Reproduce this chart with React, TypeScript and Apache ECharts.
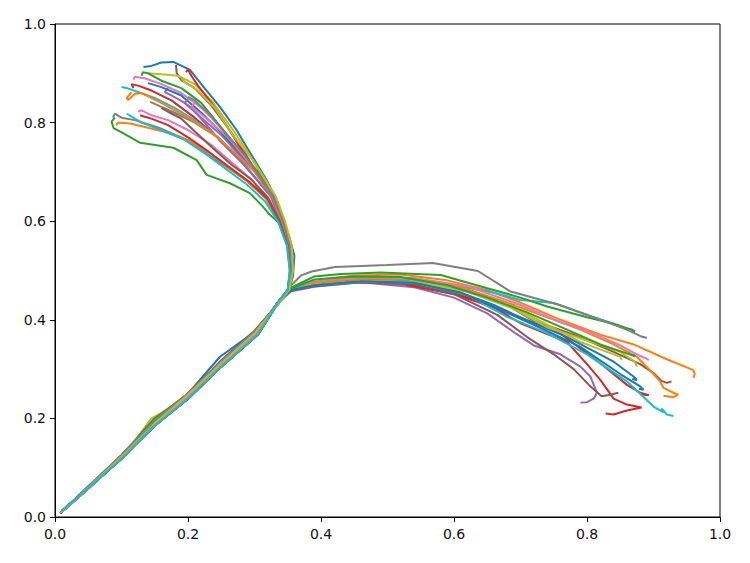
import React, { useEffect, useRef } from "react";
import * as echarts from "echarts";

// ---- tick labels ----
const xTicks = [0, 0.2, 0.4, 0.6, 0.8, 1.0];
const yTicks = [0, 0.2, 0.4, 0.6, 0.8, 1.0];

// ---- colors (matplotlib tab10) ----
const C = {
  blue: "#1f77b4", orange: "#ff7f0e", green: "#2ca02c", red: "#d62728", purple: "#9467bd",
  brown: "#8c564b", pink: "#e377c2", gray: "#7f7f7f", olive: "#bcbd22", cyan: "#17becf",
};

// ---- trajectories: right branch ----
const rBlueA = [[0.01,0.01],[0.05,0.06],[0.1,0.125],[0.15,0.195],[0.2,0.25],[0.248,0.325],[0.3,0.375],[0.34,0.44],[0.355,0.46],[0.38,0.472],[0.45,0.48],[0.53,0.478],[0.6,0.46],[0.66,0.43],[0.7,0.405],[0.77,0.365],[0.84,0.315],[0.87,0.285],[0.875,0.278],[0.868,0.28]];
const rBlueB = [[0.008,0.008],[0.05,0.058],[0.1,0.12],[0.15,0.185],[0.2,0.245],[0.25,0.31],[0.3,0.368],[0.335,0.435],[0.355,0.46],[0.39,0.47],[0.46,0.478],[0.54,0.475],[0.61,0.455],[0.67,0.42],[0.72,0.39],[0.79,0.345],[0.85,0.29],[0.88,0.265],[0.885,0.258],[0.878,0.26]];
const rOrangeA = [[0.01,0.012],[0.055,0.065],[0.1,0.118],[0.145,0.18],[0.2,0.24],[0.25,0.305],[0.305,0.37],[0.338,0.44],[0.355,0.465],[0.39,0.48],[0.45,0.49],[0.52,0.492],[0.59,0.48],[0.65,0.46],[0.7,0.435],[0.76,0.4],[0.82,0.37],[0.87,0.35],[0.92,0.32],[0.96,0.298],[0.962,0.29],[0.96,0.282]];
const rOrangeB = [[0.01,0.01],[0.05,0.06],[0.1,0.122],[0.15,0.19],[0.2,0.248],[0.25,0.312],[0.3,0.372],[0.34,0.44],[0.355,0.463],[0.39,0.476],[0.46,0.484],[0.54,0.484],[0.61,0.466],[0.67,0.44],[0.73,0.41],[0.79,0.38],[0.84,0.35],[0.875,0.325],[0.9,0.29],[0.91,0.275],[0.915,0.262],[0.93,0.252],[0.937,0.248],[0.93,0.243],[0.915,0.246]];
const rGreenA = [[0.01,0.01],[0.05,0.062],[0.1,0.125],[0.148,0.198],[0.2,0.25],[0.25,0.315],[0.3,0.375],[0.34,0.44],[0.355,0.465],[0.39,0.488],[0.43,0.493],[0.49,0.496],[0.58,0.491],[0.65,0.464],[0.7,0.445],[0.74,0.427],[0.8,0.405],[0.84,0.392],[0.86,0.383],[0.868,0.38],[0.872,0.376],[0.866,0.378]];
const rGreenB = [[0.008,0.008],[0.05,0.058],[0.1,0.12],[0.15,0.185],[0.2,0.245],[0.25,0.31],[0.3,0.368],[0.335,0.435],[0.355,0.463],[0.39,0.482],[0.45,0.488],[0.52,0.487],[0.59,0.47],[0.65,0.445],[0.71,0.415],[0.77,0.38],[0.82,0.35],[0.86,0.332],[0.872,0.326],[0.87,0.33]];
const rRedA = [[0.01,0.012],[0.055,0.065],[0.1,0.118],[0.145,0.18],[0.2,0.24],[0.25,0.305],[0.305,0.37],[0.338,0.44],[0.355,0.46],[0.38,0.47],[0.45,0.478],[0.52,0.475],[0.6,0.455],[0.65,0.43],[0.7,0.405],[0.76,0.372],[0.82,0.312],[0.86,0.268],[0.88,0.252],[0.893,0.247],[0.88,0.249]];
const rRedB = [[0.01,0.01],[0.05,0.06],[0.1,0.125],[0.15,0.195],[0.2,0.25],[0.25,0.315],[0.3,0.375],[0.34,0.44],[0.355,0.46],[0.38,0.468],[0.44,0.476],[0.52,0.473],[0.6,0.452],[0.66,0.425],[0.7,0.393],[0.77,0.355],[0.8,0.31],[0.82,0.278],[0.84,0.24],[0.86,0.228],[0.882,0.222],[0.86,0.216],[0.84,0.208],[0.828,0.21]];
const rPurple = [[0.008,0.008],[0.05,0.058],[0.1,0.12],[0.15,0.185],[0.2,0.245],[0.25,0.31],[0.3,0.368],[0.335,0.435],[0.355,0.458],[0.39,0.467],[0.46,0.476],[0.54,0.466],[0.6,0.445],[0.65,0.413],[0.69,0.375],[0.72,0.348],[0.76,0.33],[0.79,0.305],[0.805,0.285],[0.815,0.252],[0.81,0.24],[0.8,0.233],[0.79,0.232]];
const rBrownA = [[0.01,0.01],[0.05,0.06],[0.1,0.122],[0.15,0.19],[0.2,0.248],[0.25,0.318],[0.3,0.378],[0.34,0.44],[0.355,0.462],[0.39,0.474],[0.46,0.482],[0.54,0.48],[0.62,0.462],[0.68,0.43],[0.72,0.398],[0.78,0.37],[0.84,0.335],[0.88,0.31],[0.9,0.292],[0.912,0.276],[0.92,0.272],[0.927,0.275]];
const rBrownB = [[0.01,0.012],[0.055,0.065],[0.1,0.118],[0.145,0.18],[0.2,0.24],[0.25,0.305],[0.305,0.37],[0.338,0.44],[0.355,0.459],[0.39,0.468],[0.46,0.476],[0.54,0.472],[0.6,0.452],[0.665,0.41],[0.71,0.365],[0.75,0.33],[0.78,0.3],[0.805,0.265],[0.822,0.245],[0.835,0.248],[0.847,0.252]];
const rPink = [[0.01,0.01],[0.05,0.06],[0.1,0.125],[0.15,0.195],[0.2,0.25],[0.25,0.315],[0.3,0.375],[0.34,0.44],[0.355,0.463],[0.39,0.48],[0.46,0.487],[0.54,0.485],[0.62,0.468],[0.7,0.43],[0.76,0.395],[0.8,0.378],[0.85,0.348],[0.875,0.33],[0.888,0.322],[0.893,0.318]];
const rGray = [[0.008,0.008],[0.05,0.058],[0.1,0.12],[0.15,0.185],[0.2,0.245],[0.25,0.31],[0.3,0.368],[0.335,0.435],[0.353,0.467],[0.37,0.49],[0.386,0.498],[0.421,0.507],[0.5,0.511],[0.568,0.515],[0.636,0.499],[0.684,0.458],[0.759,0.43],[0.82,0.4],[0.86,0.38],[0.882,0.366],[0.89,0.363]];
const rOliveA = [[0.01,0.012],[0.055,0.065],[0.1,0.118],[0.145,0.2],[0.2,0.24],[0.25,0.305],[0.305,0.37],[0.338,0.44],[0.355,0.462],[0.39,0.475],[0.46,0.482],[0.54,0.48],[0.62,0.46],[0.689,0.426],[0.74,0.39],[0.79,0.355],[0.83,0.335],[0.85,0.325],[0.852,0.318]];
const rOliveB = [[0.01,0.01],[0.05,0.06],[0.1,0.122],[0.15,0.19],[0.2,0.248],[0.25,0.312],[0.3,0.372],[0.34,0.44],[0.355,0.461],[0.39,0.472],[0.46,0.479],[0.54,0.477],[0.62,0.457],[0.69,0.422],[0.74,0.385],[0.8,0.358],[0.85,0.335],[0.872,0.315],[0.875,0.305]];
const rCyanA = [[0.01,0.01],[0.05,0.062],[0.1,0.125],[0.15,0.195],[0.2,0.25],[0.25,0.315],[0.3,0.375],[0.34,0.44],[0.355,0.463],[0.39,0.478],[0.46,0.484],[0.54,0.482],[0.6,0.47],[0.66,0.455],[0.7,0.44],[0.75,0.434],[0.8,0.41],[0.84,0.392],[0.86,0.38]];
const rCyanB = [[0.008,0.008],[0.05,0.058],[0.1,0.12],[0.15,0.185],[0.2,0.245],[0.25,0.31],[0.3,0.368],[0.335,0.435],[0.355,0.461],[0.39,0.47],[0.46,0.477],[0.54,0.475],[0.62,0.45],[0.68,0.406],[0.74,0.373],[0.8,0.33],[0.86,0.275],[0.88,0.25],[0.9,0.224],[0.915,0.212],[0.912,0.22],[0.92,0.208],[0.93,0.205]];

// ---- trajectories: upper-left branch ----
const lBlueA = [[0.01,0.01],[0.05,0.06],[0.1,0.125],[0.15,0.195],[0.2,0.25],[0.25,0.315],[0.3,0.375],[0.34,0.44],[0.352,0.46],[0.358,0.49],[0.36,0.53],[0.352,0.57],[0.346,0.589],[0.333,0.643],[0.318,0.684],[0.288,0.751],[0.273,0.785],[0.248,0.832],[0.223,0.873],[0.203,0.907],[0.178,0.923],[0.16,0.922],[0.145,0.915],[0.133,0.913]];
const lBlueB = [[0.008,0.008],[0.05,0.058],[0.1,0.12],[0.15,0.185],[0.2,0.245],[0.25,0.31],[0.3,0.368],[0.335,0.435],[0.35,0.46],[0.357,0.5],[0.354,0.55],[0.343,0.6],[0.328,0.65],[0.305,0.695],[0.28,0.735],[0.25,0.78],[0.22,0.82],[0.19,0.855],[0.16,0.872],[0.14,0.88]];
const lOliveA = [[0.01,0.012],[0.055,0.065],[0.1,0.118],[0.145,0.18],[0.2,0.24],[0.25,0.305],[0.305,0.37],[0.338,0.44],[0.35,0.46],[0.357,0.5],[0.355,0.55],[0.344,0.6],[0.33,0.645],[0.312,0.69],[0.29,0.74],[0.265,0.79],[0.235,0.845],[0.21,0.878],[0.185,0.895],[0.16,0.898],[0.14,0.9]];
const lOliveB = [[0.01,0.01],[0.05,0.06],[0.1,0.122],[0.15,0.19],[0.2,0.248],[0.25,0.312],[0.3,0.372],[0.34,0.44],[0.352,0.46],[0.358,0.5],[0.356,0.55],[0.346,0.6],[0.332,0.65],[0.3,0.72],[0.27,0.77],[0.24,0.83],[0.215,0.865],[0.195,0.882],[0.19,0.89]];
const lGreenA = [[0.01,0.01],[0.05,0.062],[0.1,0.125],[0.15,0.195],[0.2,0.25],[0.25,0.315],[0.3,0.375],[0.34,0.44],[0.35,0.46],[0.355,0.5],[0.352,0.55],[0.343,0.59],[0.323,0.613],[0.313,0.629],[0.293,0.657],[0.263,0.677],[0.228,0.694],[0.213,0.724],[0.178,0.749],[0.128,0.759],[0.103,0.778],[0.088,0.789],[0.085,0.802],[0.09,0.81]];
const lGreenB = [[0.008,0.008],[0.05,0.058],[0.1,0.12],[0.15,0.185],[0.2,0.245],[0.25,0.31],[0.3,0.368],[0.335,0.435],[0.35,0.46],[0.357,0.5],[0.354,0.55],[0.342,0.6],[0.328,0.65],[0.305,0.7],[0.28,0.74],[0.25,0.79],[0.22,0.84],[0.19,0.87],[0.16,0.885],[0.14,0.9],[0.132,0.902],[0.13,0.895]];
const lOrangeA = [[0.01,0.012],[0.055,0.065],[0.1,0.118],[0.145,0.18],[0.2,0.24],[0.25,0.305],[0.305,0.37],[0.338,0.44],[0.35,0.46],[0.356,0.5],[0.35,0.55],[0.336,0.6],[0.318,0.645],[0.29,0.68],[0.26,0.71],[0.233,0.738],[0.2,0.765],[0.163,0.782],[0.113,0.798],[0.095,0.8],[0.092,0.795]];
const lOrangeB = [[0.01,0.01],[0.05,0.06],[0.1,0.122],[0.15,0.19],[0.2,0.248],[0.25,0.312],[0.3,0.372],[0.34,0.44],[0.35,0.46],[0.357,0.5],[0.353,0.55],[0.341,0.6],[0.327,0.65],[0.3,0.7],[0.27,0.74],[0.24,0.775],[0.2,0.81],[0.16,0.84],[0.13,0.86],[0.12,0.858],[0.11,0.846],[0.108,0.85],[0.115,0.862]];
const lRedA = [[0.01,0.01],[0.05,0.06],[0.1,0.125],[0.15,0.195],[0.2,0.25],[0.25,0.315],[0.3,0.375],[0.34,0.44],[0.35,0.46],[0.355,0.5],[0.352,0.55],[0.34,0.6],[0.325,0.65],[0.3,0.69],[0.275,0.73],[0.245,0.77],[0.21,0.81],[0.175,0.845],[0.145,0.865],[0.125,0.875],[0.115,0.878],[0.118,0.87]];
const lRedB = [[0.008,0.008],[0.05,0.058],[0.1,0.12],[0.15,0.185],[0.2,0.245],[0.25,0.31],[0.3,0.368],[0.335,0.435],[0.35,0.46],[0.354,0.5],[0.35,0.55],[0.337,0.6],[0.32,0.645],[0.292,0.68],[0.262,0.71],[0.232,0.74],[0.2,0.77],[0.17,0.795],[0.145,0.808],[0.135,0.812],[0.128,0.815]];
const lRedC = [[0.01,0.012],[0.055,0.065],[0.1,0.118],[0.145,0.18],[0.2,0.24],[0.25,0.305],[0.305,0.37],[0.338,0.44],[0.35,0.46],[0.357,0.5],[0.354,0.55],[0.343,0.6],[0.328,0.65],[0.305,0.695],[0.285,0.735],[0.26,0.79],[0.235,0.84],[0.215,0.875],[0.205,0.895],[0.2,0.908],[0.197,0.902]];
const lPurpleA = [[0.01,0.01],[0.05,0.06],[0.1,0.122],[0.15,0.19],[0.2,0.248],[0.25,0.312],[0.3,0.372],[0.34,0.44],[0.35,0.46],[0.357,0.5],[0.354,0.55],[0.343,0.6],[0.328,0.65],[0.305,0.695],[0.28,0.73],[0.25,0.775],[0.22,0.81],[0.195,0.84],[0.175,0.855],[0.165,0.862],[0.17,0.87]];
const lPurpleB = [[0.01,0.01],[0.05,0.062],[0.1,0.125],[0.15,0.195],[0.2,0.25],[0.25,0.315],[0.3,0.375],[0.34,0.44],[0.35,0.46],[0.355,0.5],[0.352,0.55],[0.34,0.6],[0.325,0.65],[0.3,0.69],[0.28,0.72],[0.25,0.76],[0.225,0.8],[0.205,0.83],[0.195,0.84],[0.2,0.848]];
const lBrownA = [[0.008,0.008],[0.05,0.058],[0.1,0.12],[0.15,0.185],[0.2,0.245],[0.25,0.31],[0.3,0.368],[0.335,0.435],[0.35,0.46],[0.357,0.5],[0.354,0.55],[0.343,0.6],[0.328,0.65],[0.305,0.695],[0.285,0.74],[0.26,0.79],[0.235,0.835],[0.21,0.87],[0.19,0.886],[0.183,0.9],[0.182,0.917]];
const lBrownB = [[0.01,0.012],[0.055,0.065],[0.1,0.118],[0.145,0.18],[0.2,0.24],[0.25,0.305],[0.305,0.37],[0.338,0.44],[0.35,0.46],[0.354,0.5],[0.35,0.55],[0.338,0.6],[0.32,0.648],[0.295,0.685],[0.265,0.715],[0.24,0.745],[0.212,0.78],[0.19,0.808],[0.17,0.822],[0.16,0.83]];
const lPinkA = [[0.01,0.01],[0.05,0.06],[0.1,0.122],[0.15,0.19],[0.2,0.248],[0.25,0.312],[0.3,0.372],[0.34,0.44],[0.35,0.46],[0.357,0.5],[0.354,0.55],[0.343,0.6],[0.328,0.65],[0.305,0.695],[0.28,0.74],[0.25,0.79],[0.22,0.83],[0.19,0.86],[0.16,0.878],[0.135,0.89],[0.12,0.893],[0.118,0.887]];
const lPinkB = [[0.01,0.01],[0.05,0.06],[0.1,0.125],[0.15,0.195],[0.2,0.25],[0.25,0.315],[0.3,0.375],[0.34,0.44],[0.35,0.46],[0.355,0.5],[0.351,0.55],[0.338,0.6],[0.322,0.645],[0.295,0.685],[0.265,0.72],[0.235,0.755],[0.2,0.785],[0.17,0.805],[0.145,0.815],[0.13,0.825],[0.125,0.822]];
const lPinkC = [[0.008,0.008],[0.05,0.058],[0.1,0.12],[0.15,0.185],[0.2,0.245],[0.25,0.31],[0.3,0.368],[0.335,0.435],[0.35,0.46],[0.357,0.5],[0.354,0.55],[0.343,0.6],[0.328,0.65],[0.305,0.695],[0.285,0.73],[0.26,0.77],[0.235,0.8],[0.215,0.822],[0.205,0.832],[0.21,0.84]];
const lGrayA = [[0.01,0.012],[0.055,0.065],[0.1,0.118],[0.145,0.18],[0.2,0.24],[0.25,0.305],[0.305,0.37],[0.338,0.44],[0.35,0.46],[0.353,0.5],[0.349,0.55],[0.336,0.6],[0.318,0.645],[0.29,0.68],[0.258,0.71],[0.225,0.74],[0.19,0.77],[0.155,0.79],[0.12,0.805],[0.1,0.81],[0.09,0.818],[0.087,0.81]];
const lGrayB = [[0.01,0.01],[0.05,0.06],[0.1,0.122],[0.15,0.19],[0.2,0.248],[0.25,0.312],[0.3,0.372],[0.34,0.44],[0.35,0.46],[0.357,0.5],[0.354,0.55],[0.343,0.6],[0.328,0.65],[0.305,0.695],[0.275,0.73],[0.245,0.77],[0.21,0.8],[0.18,0.82],[0.155,0.835],[0.143,0.842]];
const lGrayC = [[0.01,0.01],[0.05,0.062],[0.1,0.125],[0.15,0.195],[0.2,0.25],[0.25,0.315],[0.3,0.375],[0.34,0.44],[0.35,0.46],[0.357,0.5],[0.354,0.55],[0.343,0.6],[0.328,0.65],[0.305,0.695],[0.285,0.735],[0.255,0.78],[0.23,0.82],[0.21,0.845],[0.2,0.852]];
const lCyanA = [[0.008,0.008],[0.05,0.058],[0.1,0.12],[0.15,0.185],[0.2,0.245],[0.25,0.31],[0.3,0.368],[0.335,0.435],[0.35,0.46],[0.355,0.5],[0.352,0.55],[0.34,0.6],[0.325,0.65],[0.3,0.69],[0.275,0.73],[0.245,0.77],[0.21,0.805],[0.18,0.83],[0.15,0.85],[0.125,0.862],[0.108,0.87],[0.1,0.872]];
const lCyanB = [[0.01,0.012],[0.055,0.065],[0.1,0.118],[0.145,0.18],[0.2,0.24],[0.25,0.305],[0.305,0.37],[0.338,0.44],[0.35,0.46],[0.353,0.5],[0.349,0.55],[0.335,0.6],[0.316,0.64],[0.288,0.675],[0.258,0.705],[0.228,0.735],[0.195,0.765],[0.16,0.785],[0.13,0.8],[0.115,0.812],[0.108,0.818]];

const seriesList: [number[][], string][] = [
  [lBlueA, C.blue], [rOrangeA, C.orange], [lGreenA, C.green], [rRedA, C.red], [lPurpleA, C.purple],
  [rBrownA, C.brown], [lPinkA, C.pink], [lGrayA, C.gray], [rOliveA, C.olive], [rCyanA, C.cyan],
  [rBlueA, C.blue], [lOrangeA, C.orange], [rGreenA, C.green], [lRedA, C.red], [rPurple, C.purple],
  [lBrownA, C.brown], [lPinkB, C.pink], [rGray, C.gray], [lOliveA, C.olive], [lCyanA, C.cyan],
  [lBlueB, C.blue], [rOrangeB, C.orange], [lGreenB, C.green], [rRedB, C.red], [lPurpleB, C.purple],
  [rBrownB, C.brown], [rPink, C.pink], [lGrayB, C.gray], [rOliveB, C.olive], [rCyanB, C.cyan],
  [rBlueB, C.blue], [lOrangeB, C.orange], [rGreenB, C.green], [lRedB, C.red], [lRedC, C.red],
  [lBrownB, C.brown], [lPinkC, C.pink], [lGrayC, C.gray], [lOliveB, C.olive], [lCyanB, C.cyan],
];

export default function App() {
  const ref = useRef<HTMLDivElement>(null);
  useEffect(() => {
    if (!ref.current) return;
    const chart = echarts.init(ref.current, undefined, { renderer: "svg" });
    const axisCommon = {
      type: "value" as const,
      min: 0,
      max: 1,
      interval: 0.2,
      splitLine: { show: false },
      axisLine: { show: true, onZero: false, lineStyle: { color: "#000", width: 1 } },
      axisTick: { show: true, inside: false, length: 5, lineStyle: { color: "#000", width: 1 } },
      axisLabel: {
        color: "#111",
        fontFamily: "DejaVu Sans",
        fontSize: 14,
        formatter: (v: number) => v.toFixed(1),
      },
    };
    chart.setOption({
      animation: false,
      backgroundColor: "#fff",
      grid: { left: 55, right: 30, top: 24, bottom: 46, show: true, borderColor: "#000", borderWidth: 1, backgroundColor: "transparent" },
      xAxis: { ...axisCommon, axisLabel: { ...axisCommon.axisLabel, margin: 10 } },
      yAxis: { ...axisCommon, axisLabel: { ...axisCommon.axisLabel, margin: 9 } },
      series: seriesList.map(([d, color]) => ({
        type: "line",
        data: d,
        showSymbol: false,
        symbol: "none",
        lineStyle: { color, width: 2 },
        itemStyle: { color },
        silent: true,
      })),
    });
    return () => chart.dispose();
  }, []);
  return (
    <div
      ref={ref}
      style={{ position: "fixed", left: 0, top: 0, width: 750, height: 563, background: "#fff" }}
    />
  );
}
